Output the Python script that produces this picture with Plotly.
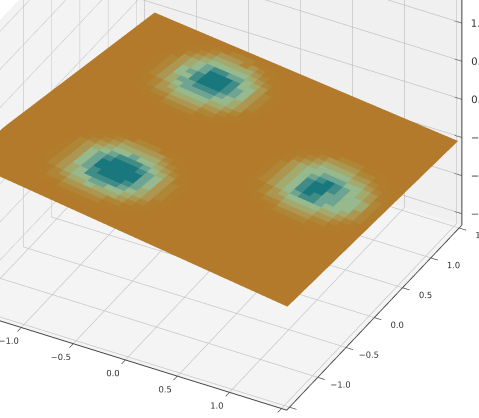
#!/usr/bin/env python3
"""Flat field over a 3D box, three blobs in the colour values"""
import numpy as np
import plotly.graph_objects as go

n_cells = 40
axis_ticks = [-1.5, -1.0, -0.5, 0.0, 0.5, 1.0, 1.5]
x_tick_labels = ['−1.5', '−1.0', '−0.5', '0.0', '0.5', '1.0', '']
y_tick_labels = ['', '−1.0', '−0.5', '0.0', '0.5', '1.0', '1.5']
z_tick_labels = ['−1.5', '−1.0', '−0.5', '0.0', '0.5', '1.0', '1.5']

# plate corners, order: (x low, y low), (x high, y low), (x low, y high), (x high, y high)
corner_x = [-1.6, 1.53, -1.375, 1.54]
corner_y = [-1.5, -1.5, 1.5, 1.5]
corner_z = [0.263, -0.34, -0.068, -0.513]

# colour level per cell, rows go with y, columns go with x
bump_a = [
    [0, 0, 0, 0, 1, 1, 1, 1, 1, 1, 0, 0, 0, 0, 0],
    [0, 0, 1, 1, 1, 2, 2, 2, 2, 1, 1, 1, 0, 0, 0],
    [0, 1, 1, 2, 2, 3, 3, 3, 3, 2, 2, 1, 1, 0, 0],
    [0, 1, 2, 3, 3, 4, 4, 4, 4, 3, 3, 2, 1, 1, 0],
    [1, 1, 2, 3, 4, 5, 5, 5, 5, 4, 4, 3, 2, 1, 0],
    [1, 2, 3, 4, 5, 6, 6, 6, 6, 5, 5, 4, 3, 1, 1],
    [1, 2, 3, 4, 6, 6, 7, 7, 7, 6, 5, 4, 3, 2, 1],
    [1, 2, 3, 5, 5, 7, 8, 8, 8, 7, 6, 5, 3, 2, 1],
    [1, 2, 3, 5, 6, 7, 8, 8, 8, 7, 6, 5, 3, 2, 1],
    [1, 2, 3, 4, 5, 6, 8, 8, 8, 7, 5, 5, 3, 2, 1],
    [0, 1, 3, 4, 5, 6, 7, 7, 6, 6, 5, 4, 3, 1, 1],
    [0, 1, 2, 3, 4, 5, 5, 5, 5, 5, 4, 3, 2, 1, 0],
    [0, 1, 1, 2, 3, 4, 4, 4, 4, 4, 3, 2, 1, 1, 0],
    [0, 0, 1, 1, 2, 3, 3, 3, 2, 3, 2, 1, 1, 0, 0],
    [0, 0, 0, 1, 1, 1, 2, 2, 2, 1, 1, 1, 0, 0, 0],
]
bump_b = [
    [0, 0, 0, 0, 1, 1, 1, 1, 1, 1, 0, 0, 0, 0, 0],
    [0, 0, 1, 1, 2, 2, 2, 2, 2, 1, 1, 1, 0, 0, 0],
    [0, 1, 2, 2, 3, 3, 3, 3, 3, 2, 2, 1, 1, 0, 0],
    [0, 1, 2, 3, 4, 4, 5, 4, 4, 4, 3, 2, 1, 1, 0],
    [1, 2, 3, 4, 5, 5, 6, 6, 5, 5, 4, 3, 2, 1, 0],
    [1, 2, 3, 4, 5, 7, 7, 7, 7, 6, 5, 4, 3, 1, 1],
    [1, 2, 3, 5, 6, 7, 8, 8, 8, 7, 6, 4, 3, 2, 1],
    [1, 2, 3, 5, 6, 8, 8, 8, 8, 8, 6, 5, 3, 2, 1],
    [1, 2, 3, 5, 6, 8, 8, 8, 8, 8, 6, 5, 3, 2, 1],
    [1, 2, 3, 5, 6, 7, 8, 8, 8, 7, 6, 5, 3, 2, 1],
    [0, 2, 3, 4, 5, 6, 7, 7, 7, 6, 5, 4, 3, 1, 1],
    [0, 1, 2, 3, 4, 5, 5, 6, 5, 5, 4, 3, 2, 1, 0],
    [0, 1, 1, 2, 3, 4, 4, 4, 4, 4, 3, 2, 1, 1, 0],
    [0, 0, 1, 1, 2, 3, 3, 3, 3, 3, 2, 1, 1, 0, 0],
    [0, 0, 0, 1, 1, 1, 2, 2, 2, 1, 1, 1, 0, 0, 0],
]
bump_c = [
    [0, 0, 0, 0, 1, 1, 1, 1, 1, 1, 0, 0, 0, 0, 0],
    [0, 0, 1, 1, 1, 2, 2, 2, 2, 1, 1, 1, 0, 0, 0],
    [0, 1, 1, 2, 2, 3, 3, 3, 3, 2, 2, 1, 1, 0, 0],
    [0, 1, 2, 3, 3, 4, 4, 4, 4, 3, 3, 2, 1, 1, 0],
    [1, 1, 2, 3, 4, 5, 5, 5, 5, 4, 4, 3, 2, 1, 0],
    [1, 2, 3, 4, 5, 6, 7, 7, 6, 5, 5, 4, 3, 2, 1],
    [1, 2, 3, 4, 5, 7, 8, 7, 6, 6, 5, 5, 3, 2, 1],
    [1, 2, 3, 4, 5, 7, 8, 8, 6, 6, 5, 5, 4, 2, 1],
    [1, 2, 3, 4, 5, 7, 8, 8, 7, 6, 5, 5, 4, 2, 1],
    [1, 2, 3, 4, 5, 6, 7, 8, 7, 6, 5, 4, 3, 2, 1],
    [0, 1, 3, 4, 5, 5, 6, 6, 6, 5, 5, 4, 3, 1, 1],
    [0, 1, 2, 3, 4, 5, 5, 5, 5, 4, 4, 3, 2, 1, 0],
    [0, 1, 1, 2, 3, 4, 4, 4, 4, 3, 3, 2, 1, 1, 0],
    [0, 0, 1, 1, 2, 3, 3, 3, 3, 2, 2, 1, 1, 0, 0],
    [0, 0, 0, 1, 1, 1, 2, 2, 2, 1, 1, 1, 0, 0, 0],
]
# first cell (col, row) of each patch
bump_a_at = (5, 24)
bump_b_at = (6, 2)
bump_c_at = (25, 14)

level_colors = [
    '#b27a2a', '#b17d2d', '#af8536', '#ac9650', '#a3aa6e',
    '#96b98e', '#6ea592', '#418c87', '#19787d',
]

levels = np.zeros((n_cells, n_cells))
for patch, (col, row) in [(bump_a, bump_a_at), (bump_b, bump_b_at), (bump_c, bump_c_at)]:
    patch = np.array(patch)
    levels[row:row + patch.shape[0], col:col + patch.shape[1]] = patch

# mesh vertices between the four corners
frac = np.linspace(0, 1, n_cells + 1)
gu, gv = np.meshgrid(frac, frac)


def between(c):
    return ((1 - gu) * (1 - gv) * c[0] + gu * (1 - gv) * c[1]
            + (1 - gu) * gv * c[2] + gu * gv * c[3]).ravel()


tri_i, tri_j, tri_k, tri_val = [], [], [], []
for r in range(n_cells):
    for c in range(n_cells):
        a = r * (n_cells + 1) + c
        b = a + 1
        d = a + n_cells + 1
        e = d + 1
        tri_i += [a, a]
        tri_j += [b, e]
        tri_k += [e, d]
        tri_val += [levels[r, c], levels[r, c]]

fig = go.Figure(go.Mesh3d(
    x=between(corner_x), y=between(corner_y), z=between(corner_z),
    i=tri_i, j=tri_j, k=tri_k,
    intensity=tri_val, intensitymode='cell',
    colorscale=[[i / 8, col] for i, col in enumerate(level_colors)],
    cmin=0, cmax=8, showscale=False, flatshading=True,
    lighting=dict(ambient=1, diffuse=0, specular=0, roughness=1, fresnel=0),
))

# z axis sits on the right back edge here, plotly would put it on the left
# (anything past the axis range gets clipped, so stay on the edge)
edge_x, edge_y, edge_z = [1.55, 1.55], [1.55, 1.55], [-1.65, 1.65]
for t in axis_ticks:
    edge_x += [None, 1.48, 1.55]
    edge_y += [None, 1.55, 1.55]
    edge_z += [None, t, t]
fig.add_trace(go.Scatter3d(
    x=edge_x, y=edge_y, z=edge_z, mode='lines',
    line=dict(color='#444444', width=2), showlegend=False, hoverinfo='skip',
))
fig.add_trace(go.Scatter3d(
    x=[1.55] * len(axis_ticks), y=[1.55] * len(axis_ticks), z=axis_ticks,
    mode='text', text=z_tick_labels, textposition='middle right',
    textfont=dict(family='DejaVu Sans', size=10, color='#333333'),
    showlegend=False, hoverinfo='skip',
))


def axis_style(bg):
    return dict(
        title='', tickvals=axis_ticks, tickangle=0,
        showbackground=True, backgroundcolor=bg,
        gridcolor='#c4c4c4', gridwidth=1.5,
        showline=True, linecolor='#444444', linewidth=2,
        ticks='outside', ticklen=8, tickwidth=1.5, tickcolor='#444444',
        tickfont=dict(family='DejaVu Sans', size=10, color='#333333'),
        zeroline=False, showspikes=False,
    )


fig.update_layout(
    width=479, height=418,
    margin=dict(l=0, r=0, t=0, b=0),
    paper_bgcolor='white',
    scene=dict(
        domain=dict(x=[0, 1], y=[0, 1]),
        xaxis=dict(axis_style('#f3f3f3'), range=[-1.55, 1.55], ticktext=x_tick_labels),
        yaxis=dict(axis_style('#f0f0f0'), range=[-1.55, 1.55], ticktext=y_tick_labels),
        zaxis=dict(axis_style('#f4f4f4'), range=[-1.65, 1.65],
                   showticklabels=False, ticks='', showline=False),
        aspectmode='manual',
        aspectratio=dict(x=1.757, y=1.757, z=1.47),
        camera=dict(
            eye=dict(x=0.591, y=-0.822, z=0.3095),
            center=dict(x=0.200, y=-0.102, z=-0.2645),
            up=dict(x=0, y=0, z=1),
            projection=dict(type='orthographic'),
        ),
    ),
)

fig.write_html("out.html", config=dict(displayModeBar=False),
               post_script="document.body.style.margin='0';")
